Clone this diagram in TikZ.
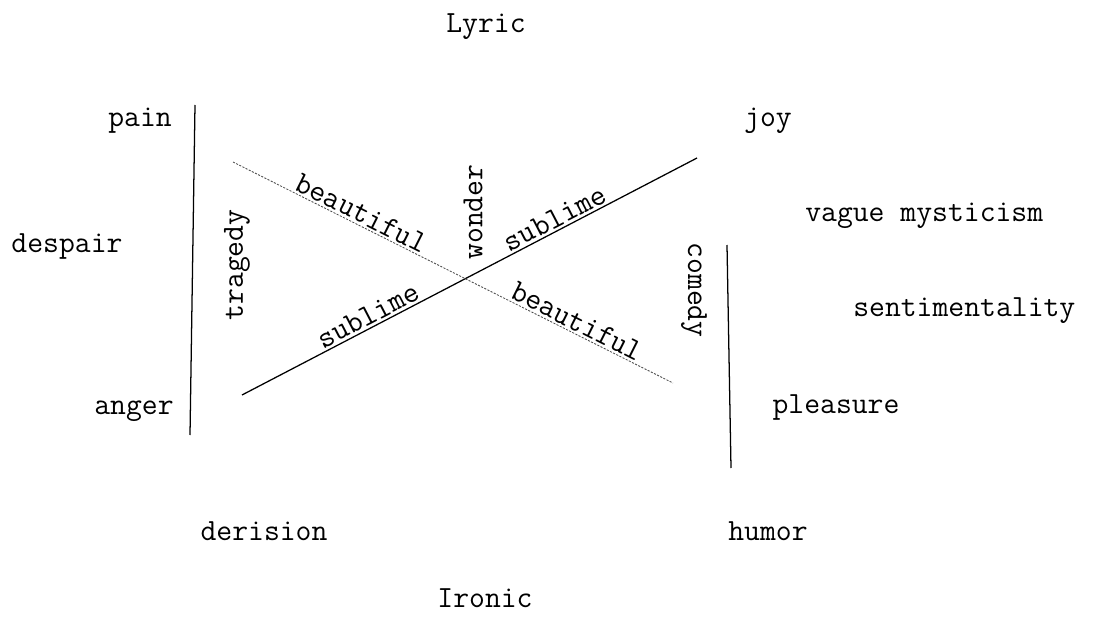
\documentclass[tikz,border=0pt]{standalone}
\usetikzlibrary{positioning}

\begin{document}
\begin{tikzpicture}[x=0.025cm, y=-0.025cm,
    font=\ttfamily\fontsize{21.9}{25}\selectfont,
    word/.style={anchor=base, inner sep=0pt},
    upword/.style={rotate=90, inner sep=0pt},
    downword/.style={rotate=-90, inner sep=0pt},
    along/.style={sloped, above, inner sep=1.5pt, text=black},
    bar/.style={line width=0.9pt},
    faint/.style={line width=0.6pt, black!70, dash pattern=on 1.5pt off 1pt}]
    \useasboundingbox (0,0) rectangle (1097,617);
    % the four corners of the mode
    \node[word] (lyr) at (486,33)  {Lyric};
    \node[word] (iro) at (485,607) {Ironic};
    \node[word] (pai) at (140,127) {pain};
    \node[word] (joy) at (768,127) {joy};
    \node[word] (des) at (67,252)  {despair};
    \node[word, anchor=base west] (vag) at (805,221) {vague mysticism};
    \node[word, anchor=base west] (sen) at (853,316) {sentimentality};
    \node[word] (ang) at (134,414) {anger};
    \node[word] (ple) at (836,413) {pleasure};
    \node[word] (der) at (264,540) {derision};
    \node[word] (hum) at (768,540) {humor};
    % vertical words
    \node[upword] (tra) at (237,265) {tragedy};
    \node[upword] (won) at (473,212) {wonder};
    \node[downword] (com) at (694,290) {comedy};
    % bars
    \coordinate (l1) at (195,105); \coordinate (l2) at (190,435);
    \coordinate (r1) at (727,245); \coordinate (r2) at (731,468);
    \draw[bar] (l1) -- (l2);
    \draw[bar] (r1) -- (r2);
    % the cross
    \coordinate (s1) at (242,395); \coordinate (s2) at (697,158);
    \coordinate (b1) at (233,162); \coordinate (b2) at (673,383);
    \draw[bar] (s1) -- node[along, pos=0.29] (sub1) {sublime}
                       node[along, pos=0.70] (sub2) {sublime} (s2);
    \draw[faint] (b1) -- node[along, pos=0.28] (bea1) {beautiful}
                         node[along, pos=0.77] (bea2) {beautiful} (b2);
\end{tikzpicture}
\end{document}
